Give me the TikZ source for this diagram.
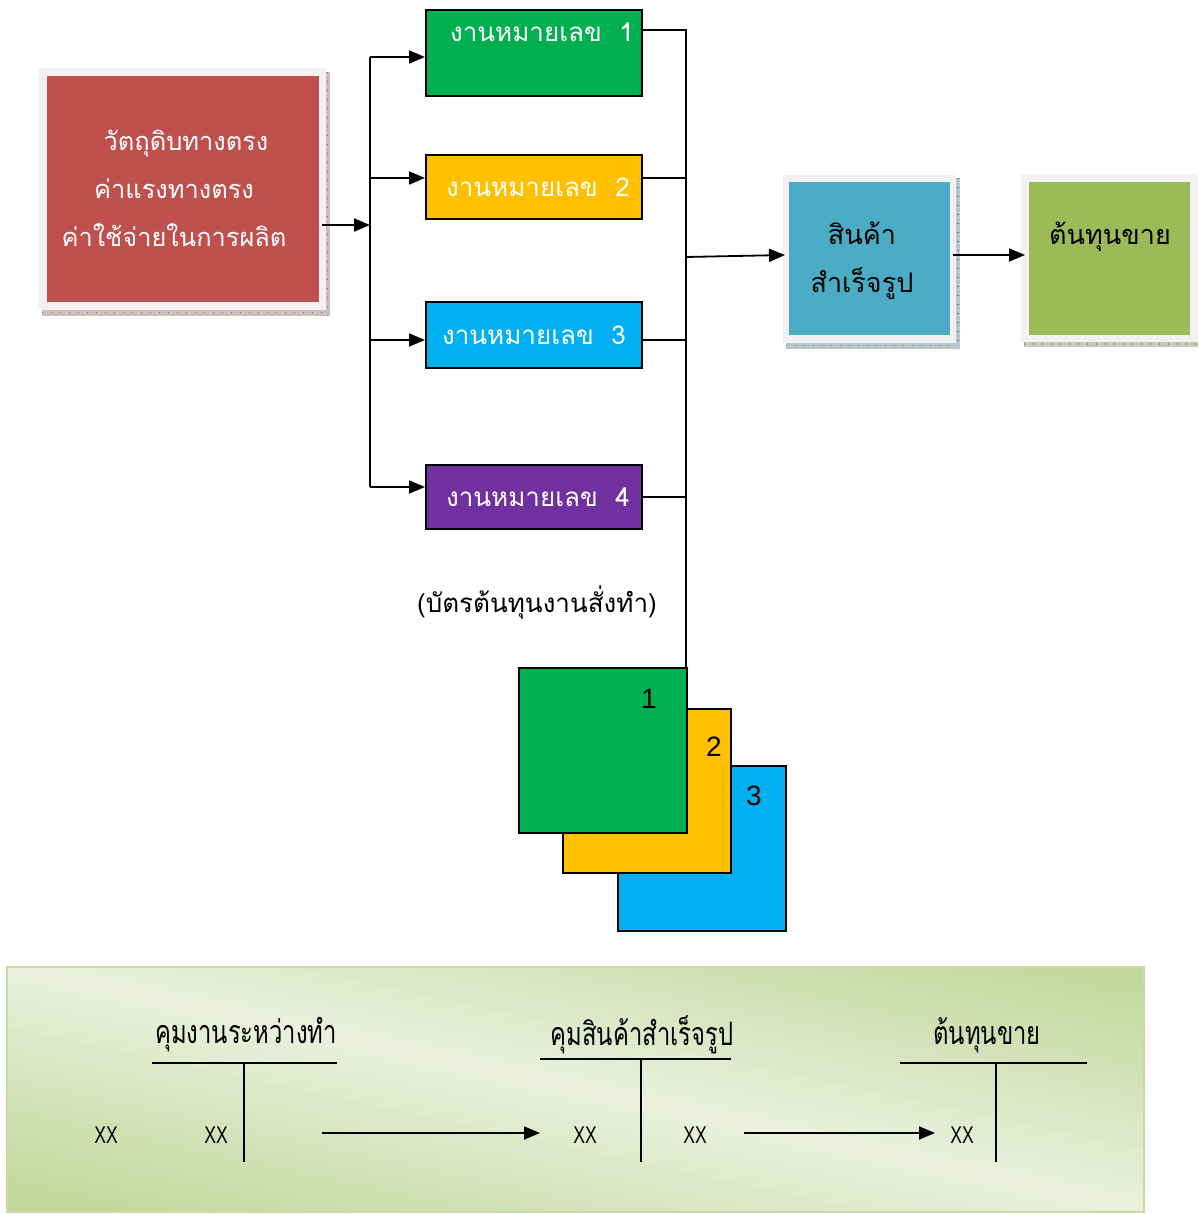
\documentclass[tikz,border=0pt]{standalone}
\usepackage{fontspec}
\usepackage{graphicx}
\setmainfont{Liberation Sans}
\newfontfamily\thai[Script=Thai]{Loma}
\usetikzlibrary{arrows.meta}
\definecolor{cred}{HTML}{C0504D}
\definecolor{cgreen}{HTML}{00B050}
\definecolor{cyel}{HTML}{FFC000}
\definecolor{ccyan}{HTML}{00B0F0}
\definecolor{cpurp}{HTML}{7030A0}
\definecolor{cfg}{HTML}{4BACC6}
\definecolor{ccogs}{HTML}{9BBB59}
\definecolor{cframe}{HTML}{F2F2F2}
\definecolor{pdark}{HTML}{C3D69B}
\definecolor{plight}{HTML}{EBF1DE}
\definecolor{pborder}{HTML}{C9DBA5}
\tikzset{
  job/.style={draw=black,line width=1pt,minimum width=108pt,text=white,font=\thai\fontsize{13}{16}\selectfont},
  card/.style={draw=black,line width=1pt},
  conn/.style={line width=0.9pt},
  arr/.style={line width=0.9pt,-{Triangle[length=8pt,width=6.5pt]}},
  tline/.style={line width=1pt},
  xx/.style={font=\fontsize{11}{12}\selectfont},
  ttl/.style={font=\thai\fontsize{14}{16}\selectfont},
}
\begin{document}
\begin{tikzpicture}[x=0.5pt,y=-0.5pt]
\useasboundingbox (0,0) rectangle (1198,1214);
% ---- red source box
\fill[cred!30!gray!45] (42,309) rectangle (330,316);
\draw[cred!50!black!70,line width=0.6pt,dash pattern=on 0.5pt off 4pt] (42,312.5) -- (330,312.5);
\fill[cred!30!gray!45] (325,72) rectangle (330,316);
\draw[cred!50!black!70,line width=0.6pt,dash pattern=on 0.5pt off 4pt] (327.5,72) -- (327.5,316);
\fill[cframe] (38,68) rectangle (326,310);
\node[fill=cred,minimum width=136pt,minimum height=113pt,anchor=north west,inner sep=0pt] (src) at (47,76) {};
\node[text=white,align=center,font=\thai\fontsize{12.7}{24}\selectfont] (srct) at (174,188) {\hspace*{12pt}วัตถุดิบทางตรง\\ค่าแรงทางตรง\\ค่าใช้จ่ายในการผลิต};
\coordinate (trunk) at (370,225);
\draw[arr] (322,225) -- (trunk);
% ---- job boxes
\node[job,fill=cgreen,minimum height=43pt,anchor=north west,text depth=21pt] (j1) at (425,9) {\hspace*{8pt}งานหมายเลข\ \ 1};
\node[job,fill=cyel,minimum height=32pt,anchor=north west] (j2) at (425,154) {\hspace*{4pt}งานหมายเลข\ \ 2};
\node[job,fill=ccyan,minimum height=33pt,anchor=north west] (j3) at (425,301) {งานหมายเลข\ \ 3};
\node[job,fill=cpurp,minimum height=32pt,anchor=north west] (j4) at (425,464) {\hspace*{4pt}งานหมายเลข\ \ 4};
\coordinate (t1) at (370,57);
\coordinate (t4) at (370,487);
\draw[conn] (t1) -- (t4);
\draw[arr] (t1) -- (j1.west |- t1);
\draw[arr] (370,178) -- (j2.west |- 0,178);
\draw[arr] (370,340) -- (j3.west |- 0,340);
\draw[arr] (t4) -- (j4.west |- t4);
% ---- cards
\node[card,fill=ccyan,minimum width=84pt,minimum height=82.5pt,anchor=north west] (c3) at (617,765) {};
\node[card,fill=cyel,minimum width=84pt,minimum height=82pt,anchor=north west] (c2) at (562,708) {};
\node[card,fill=cgreen,minimum width=84pt,minimum height=82.5pt,anchor=north west] (c1) at (518,667) {};
\node[font=\fontsize{14}{16}\selectfont] at (649,699) {1};
\node[font=\fontsize{14}{16}\selectfont] at (714,747) {2};
\node[font=\fontsize{14}{16}\selectfont] at (754,796) {3};
% ---- collecting line
\coordinate (r1) at (686,30);
\coordinate (rb) at (686,667);
\draw[conn] (j1.east |- r1) -- (r1) -- (rb);
\draw[conn] (j2.east |- 0,178) -- (686,178);
\draw[conn] (j3.east |- 0,340) -- (686,340);
\draw[conn] (j4.east |- 0,497) -- (686,497);
\node[font=\thai\fontsize{13}{16}\selectfont] (lbl) at (537,603) {(บัตรต้นทุนงานสั่งทำ)};
% ---- finished goods
\fill[cfg!40!gray!50] (786,342) rectangle (960,349);
\draw[cfg!50!black!70,line width=0.6pt,dash pattern=on 0.5pt off 4pt] (786,345.5) -- (960,345.5);
\fill[cfg!40!gray!50] (956,178) rectangle (960,349);
\draw[cfg!50!black!70,line width=0.6pt,dash pattern=on 0.5pt off 4pt] (958,178) -- (958,349);
\fill[cframe] (782,175) rectangle (956,343);
\node[fill=cfg,minimum width=80.5pt,minimum height=76.5pt,anchor=north west,inner sep=0pt] (fg) at (789,182) {};
\node[align=center,font=\thai\fontsize{13.5}{24}\selectfont] (fgt) at (862,261) {สินค้า\\สำเร็จรูป};
\draw[arr] (686,257) -- (785,255);
% ---- cost of goods sold
\fill[ccogs!40!gray!50] (1024,341) rectangle (1198,347);
\draw[ccogs!50!black!70,line width=0.6pt,dash pattern=on 0.5pt off 4pt] (1024,344) -- (1198,344);
\fill[cframe] (1021,174) rectangle (1198,342);
\node[fill=ccogs,minimum width=80.5pt,minimum height=76.5pt,anchor=north west,inner sep=0pt] (cogs) at (1029,182) {};
\node[font=\thai\fontsize{13.5}{16}\selectfont] (cogst) at (1110,237) {ต้นทุนขาย};
\draw[arr] (953,255) -- (1025,255);
% ---- bottom panel (diagonal gradient built from bands)
\begin{scope}
\clip (7,967) rectangle (1144,1212);
\foreach \i in {0,...,49} {
  \pgfmathsetmacro\sa{-250+\i*10}
  \pgfmathsetmacro\sb{\sa+12}
  \pgfmathsetmacro\sm{\sa+5}
  \pgfmathtruncatemacro\p{max(0,min(100,100*(1-abs(\sm)/230)))}
  \fill[plight!\p!pdark] (0,967+\sa-2) -- (1150,1212+\sa-1) -- (1150,1212+\sb-1) -- (0,967+\sb-2) -- cycle;
}
\end{scope}
\draw[pborder,line width=1.2pt] (7,967) rectangle (1144,1212);
% T account 1
\node[ttl] (a1) at (246,1035) {\scalebox{0.85}[1.15]{คุมงานระหว่างทำ}};
\coordinate (a1l) at (152,1063); \coordinate (a1r) at (337,1063);
\coordinate (a1t) at (244,1063); \coordinate (a1b) at (244,1162);
\draw[tline] (a1l) -- (a1r);
\draw[tline] (a1t) -- (a1b);
\node[xx] (a1x1) at (106,1135) {\scalebox{0.8}[1.1]{XX}};
\node[xx] (a1x2) at (216,1135) {\scalebox{0.8}[1.1]{XX}};
% T account 2
\node[ttl] (a2) at (642,1035) {\scalebox{0.85}[1.15]{คุมสินค้าสำเร็จรูป}};
\coordinate (a2l) at (540,1059); \coordinate (a2r) at (731,1059);
\coordinate (a2t) at (641,1059); \coordinate (a2b) at (641,1162);
\draw[tline] (a2l) -- (a2r);
\draw[tline] (a2t) -- (a2b);
\node[xx] (a2x1) at (585,1135) {\scalebox{0.8}[1.1]{XX}};
\node[xx] (a2x2) at (695,1135) {\scalebox{0.8}[1.1]{XX}};
% T account 3
\node[ttl] (a3) at (987,1035) {\scalebox{0.85}[1.15]{ต้นทุนขาย}};
\coordinate (a3l) at (900,1063); \coordinate (a3r) at (1087,1063);
\coordinate (a3t) at (996,1063); \coordinate (a3b) at (996,1162);
\draw[tline] (a3l) -- (a3r);
\draw[tline] (a3t) -- (a3b);
\node[xx] (a3x1) at (962,1135) {\scalebox{0.8}[1.1]{XX}};
% arrows
\coordinate (b1s) at (322,1133); \coordinate (b1e) at (540,1133);
\coordinate (b2s) at (744,1133); \coordinate (b2e) at (935,1133);
\draw[arr] (b1s) -- (b1e);
\draw[arr] (b2s) -- (b2e);
\end{tikzpicture}
\end{document}
